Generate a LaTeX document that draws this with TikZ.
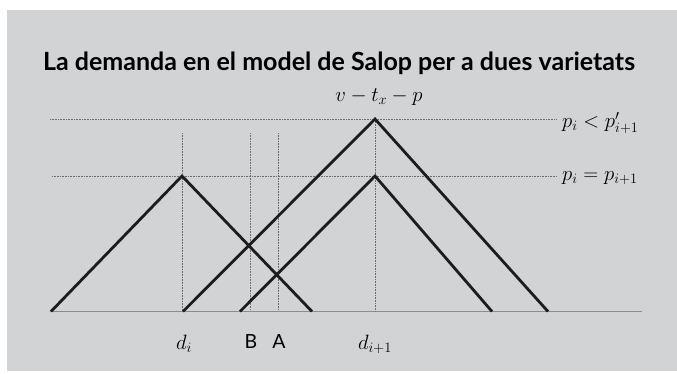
\documentclass[tikz,border=0pt]{standalone}
\usepackage{fontspec}
\setsansfont{Lato}
\definecolor{panel}{HTML}{D2D3D5}
\definecolor{guidegray}{HTML}{6E6E6E}
\definecolor{axisgray}{HTML}{8C8C8C}
\definecolor{curve}{HTML}{1C1C1C}
\begin{document}
\begin{tikzpicture}[
  x=1pt, y=-1pt,
  title/.style={font=\fontsize{25}{28}\selectfont\sffamily\bfseries},
  mathlbl/.style={font=\fontsize{21.5}{25}\selectfont, inner sep=0pt},
  letter/.style={font=\fontsize{19.5}{22}\selectfont\sffamily, inner sep=0pt},
  guide/.style={densely dotted, draw=guidegray, line width=0.6pt},
  axis/.style={draw=axisgray, line width=1.4pt},
  demand/.style={draw=curve, line width=2.8pt, line join=miter},
]
\def\ybase{311.5}
\def\ylow{176}
\def\yhigh{119}
\def\xdi{182}
\def\xdj{375}
\def\xB{250}
\def\xA{278}

\path[use as bounding box] (0,0) rectangle (677,373);
\fill[panel] (7,10) rectangle (677,371);

% guide lines
\coordinate (hh0) at (50,\yhigh);
\coordinate (hh1) at (557,\yhigh);
\coordinate (hl0) at (52,\ylow);
\coordinate (hl1) at (557,\ylow);
\draw[guide] (hh0) -- (hh1);
\draw[guide] (hl0) -- (hl1);
\coordinate (vdi) at (\xdi,133);
\coordinate (vB) at (\xB,133);
\coordinate (vA) at (\xA,133);
\coordinate (bdi) at (\xdi,\ybase);
\coordinate (bB) at (\xB,\ybase);
\coordinate (bA) at (\xA,\ybase);
\coordinate (bdj) at (\xdj,\ybase);
\draw[guide] (vdi) -- (bdi);
\draw[guide] (vB) -- (bB);
\draw[guide] (vA) -- (bA);

% axis
\coordinate (ax0) at (50,\ybase);
\coordinate (ax1) at (642,\ybase);
\draw[axis] (ax0) -- (ax1);

% demand curves
\coordinate (l1) at (51,\ybase);
\coordinate (t1) at (\xdi,\ylow);
\coordinate (r1) at (312,\ybase);
\coordinate (l2) at (240,\ybase);
\coordinate (t2) at (\xdj,\ylow);
\coordinate (r2) at (492,\ybase);
\coordinate (l3) at (183,\ybase);
\coordinate (t3) at (\xdj,\yhigh);
\coordinate (r3) at (548,\ybase);
\draw[guide] (t3) -- (bdj);
\draw[demand] (l1) -- (t1) -- (r1);
\draw[demand] (l2) -- (t2) -- (r2);
\draw[demand] (l3) -- (t3) -- (r3);

% labels
\node[title] (ttl) at (339,63) {La demanda en el model de Salop per a dues varietats};
\node[mathlbl] (top) at (379,97) {$v - t_x - p$};
\node[mathlbl, anchor=west] (plt) at (562,123) {$p_i < p'_{i+1}$};
\node[mathlbl, anchor=west] (peq) at (562,178) {$p_i = p_{i+1}$};
\node[mathlbl] (ldi) at (184,344) {$d_i$};
\node[letter] (lB) at (251,342) {B};
\node[letter] (lA) at (279,342) {A};
\node[mathlbl] (ldj) at (\xdj,344) {$d_{i+1}$};
\end{tikzpicture}
\end{document}
